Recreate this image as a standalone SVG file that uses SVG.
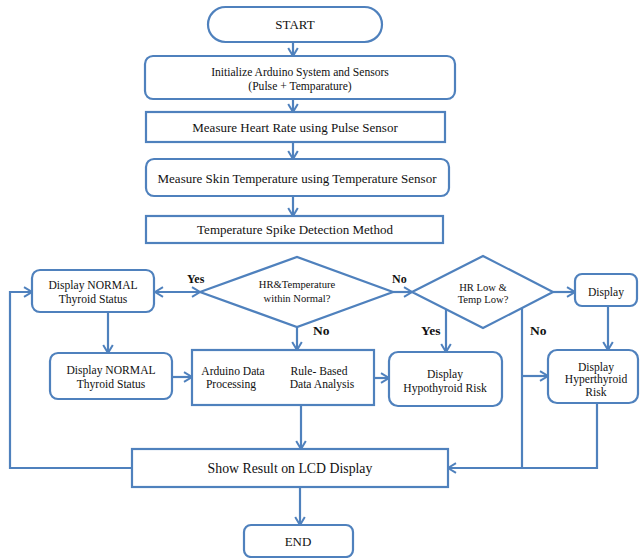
<svg xmlns="http://www.w3.org/2000/svg" width="640" height="558" viewBox="0 0 640 558" font-family="'Liberation Serif', 'Times New Roman', Times, serif">
<style>
.b{fill:#fff;stroke:#4f81bd;stroke-width:2.2}
.c{fill:none;stroke:#4f81bd;stroke-width:2.2}
text{fill:#111;text-anchor:middle}
.t13{font-size:13px}
.t12{font-size:11.6px}
.t11{font-size:10.6px}
.lb{font-weight:bold;font-size:12px;text-anchor:start}
.lb2{font-weight:bold;font-size:13.5px;text-anchor:start}
</style>
<defs>
<marker id="ah" viewBox="0 0 12 12" refX="10.5" refY="6" markerWidth="12" markerHeight="12" markerUnits="userSpaceOnUse" orient="auto-start-reverse">
<path d="M2.5,1.2 L10.5,6 L2.5,10.8" fill="none" stroke="#4f81bd" stroke-width="2"/>
</marker>
</defs>
<rect width="640" height="558" fill="#fff"/>
<g id="connectors">
<line class="c" x1="293" y1="42" x2="293" y2="56" marker-end="url(#ah)"/>
<line class="c" x1="293" y1="99" x2="293" y2="112" marker-end="url(#ah)"/>
<line class="c" x1="293" y1="142" x2="293" y2="159" marker-end="url(#ah)"/>
<line class="c" x1="293" y1="196" x2="293" y2="216" marker-end="url(#ah)"/>
<line class="c" x1="155" y1="292" x2="200" y2="292" marker-start="url(#ah)" marker-end="url(#ah)"/>
<line class="c" x1="393" y1="292" x2="412" y2="292" marker-end="url(#ah)"/>
<line class="c" x1="297" y1="327" x2="297" y2="350" marker-end="url(#ah)"/>
<line class="c" x1="108" y1="312" x2="108" y2="353" marker-end="url(#ah)"/>
<line class="c" x1="172" y1="377" x2="192" y2="377" marker-end="url(#ah)"/>
<line class="c" x1="374" y1="378" x2="389" y2="378" marker-end="url(#ah)"/>
<line class="c" x1="446" y1="310" x2="446" y2="352" marker-end="url(#ah)"/>
<line class="c" x1="553" y1="292" x2="575" y2="292" marker-end="url(#ah)"/>
<line class="c" x1="608" y1="306" x2="608" y2="350" marker-end="url(#ah)"/>
<line class="c" x1="522" y1="308" x2="522" y2="468"/>
<line class="c" x1="522" y1="376" x2="548" y2="376" marker-end="url(#ah)"/>
<polyline class="c" points="597,403 597,468 448,468" marker-end="url(#ah)"/>
<line class="c" x1="301" y1="405" x2="301" y2="449" marker-end="url(#ah)"/>
<polyline class="c" points="132,468 10,468 10,292 32,292" marker-end="url(#ah)"/>
<line class="c" x1="300" y1="487" x2="300" y2="525" marker-end="url(#ah)"/>
</g>
<g id="start"><rect class="b" x="208" y="7" width="174" height="35" rx="17.5"/><text class="t13" x="295" y="29">START</text></g>
<g id="init"><rect class="b" x="145" y="56" width="310" height="43" rx="8"/><text class="t12" x="300" y="76">Initialize Arduino System and Sensors</text><text class="t12" x="300" y="89.5">(Pulse + Temparature)</text></g>
<g id="measure-hr"><rect class="b" x="146" y="112" width="299" height="30"/><text class="t13" x="295" y="131.5">Measure Heart Rate using Pulse Sensor</text></g>
<g id="measure-temp"><rect class="b" x="146" y="159" width="303" height="37" rx="8"/><text class="t13" x="297" y="182.5">Measure Skin Temperature using Temperature Sensor</text></g>
<g id="spike"><rect class="b" x="146" y="216" width="297" height="27"/><text class="t13" x="295" y="234">Temperature Spike Detection Method</text></g>
<g id="normal1"><rect class="b" x="32" y="270" width="122" height="42" rx="8"/><text class="t12" x="93" y="289.3">Display NORMAL</text><text class="t12" x="93" y="302.7">Thyroid Status</text></g>
<g id="decision1"><polygon class="b" points="200,292 297,257 393,292 297,327"/><text class="t11" x="297" y="288">HR&amp;Temperature</text><text class="t11" x="297" y="302">within Normal?</text></g>
<g id="decision2"><polygon class="b" points="412,292 483,256 553,292 483,328"/><text class="t11" x="483" y="290.7">HR Low &amp;</text><text class="t11" x="483" y="303">Temp Low?</text></g>
<g id="display"><rect class="b" x="575" y="274" width="62" height="32" rx="7"/><text class="t12" x="606" y="296">Display</text></g>
<g id="normal2"><rect class="b" x="50" y="353" width="122" height="46" rx="8"/><text class="t12" x="111" y="374">Display NORMAL</text><text class="t12" x="111" y="388">Thyroid Status</text></g>
<g id="processing"><rect class="b" x="192" y="350" width="182" height="55"/><text class="t12" x="233" y="375">Arduino Data</text><text class="t12" x="231" y="388.3">Processing</text><text class="t12" x="319" y="375">Rule-  Based</text><text class="t12" x="322" y="388.3">Data Analysis</text></g>
<g id="hypo"><rect class="b" x="389" y="352" width="113" height="54" rx="9"/><text class="t12" x="445" y="378">Display</text><text class="t12" x="445" y="391.7">Hypothyroid Risk</text></g>
<g id="hyper"><rect class="b" x="548" y="350" width="90" height="53" rx="9"/><text class="t12" x="596" y="370.7">Display</text><text class="t12" x="596" y="383">Hyperthyroid</text><text class="t12" x="596" y="396">Risk</text></g>
<g id="lcd"><rect class="b" x="132" y="449" width="316" height="38"/><text class="t13" x="290" y="473" style="font-size:13.8px">Show Result on LCD Display</text></g>
<g id="end"><rect class="b" x="244" y="525" width="109" height="32" rx="7"/><text class="t13" x="298" y="546">END</text></g>
<g id="labels">
<text class="lb" x="187" y="283">Yes</text>
<text class="lb" x="392" y="283">No</text>
<text class="lb2" x="313" y="335">No</text>
<text class="lb2" x="421" y="335">Yes</text>
<text class="lb2" x="530" y="335">No</text>
</g>
</svg>
